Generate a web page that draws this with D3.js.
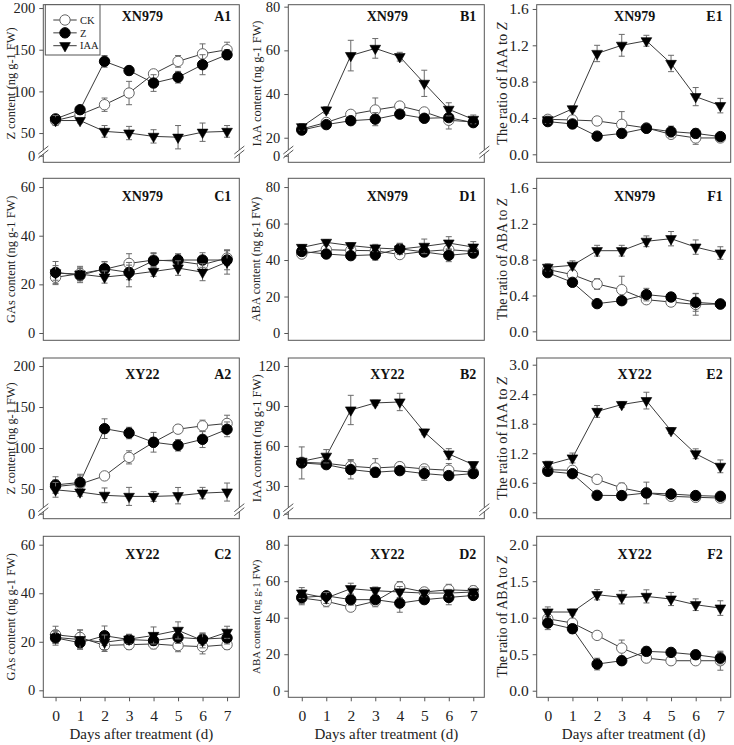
<!DOCTYPE html>
<html><head><meta charset="utf-8">
<script src="https://cdn.jsdelivr.net/npm/d3@7"></script>
<style>body{margin:0;background:#fff} svg{display:block}</style>
</head><body>
<svg id="c" width="734" height="745"></svg>
<script>
const days = [0,1,2,3,4,5,6,7];
const seriesNames = ["CK","Z","IAA"];

// A1: Z content, XN979
const A1_CK = [65, 72, 84, 98, 121, 136, 145, 150];
const A1_CK_se = [4, 4, 8, 14, 4, 7, 12, 9];
const A1_Z = [67, 78, 136, 125, 110, 117, 132, 144];
const A1_Z_se = [4, 3, 7, 5, 10, 7, 12, 6];
const A1_IAA = [65, 65, 52, 50, 46, 45, 51, 52];
const A1_IAA_se = [6, 3, 7, 8, 8, 14, 11, 7];
// B1: IAA content, XN979
const B1_CK = [24, 27, 30.7, 32.7, 34.5, 31.8, 28, 27.2];
const B1_CK_se = [1, 1, 1.5, 5.5, 1, 1, 4, 1];
const B1_Z = [23.5, 26, 27.8, 28.5, 30.8, 28.9, 29.2, 26.9];
const B1_Z_se = [1, 1, 1, 3, 1, 1, 1.5, 1.5];
const B1_IAA = [25, 32.7, 57.6, 60.9, 57.1, 44.9, 33, 28.4];
const B1_IAA_se = [1.5, 1.5, 7, 4.5, 2, 6, 3, 2];
// E1: IAA/Z ratio, XN979
const E1_CK = [0.385, 0.378, 0.367, 0.33, 0.29, 0.22, 0.18, 0.18];
const E1_CK_se = [0.02, 0.02, 0.03, 0.14, 0.03, 0.03, 0.07, 0.03];
const E1_Z = [0.36, 0.334, 0.2, 0.23, 0.286, 0.25, 0.23, 0.195];
const E1_Z_se = [0.03, 0.03, 0.02, 0.03, 0.03, 0.06, 0.05, 0.03];
const E1_IAA = [0.38, 0.5, 1.11, 1.2, 1.25, 1.0, 0.635, 0.536];
const E1_IAA_se = [0.04, 0.03, 0.09, 0.12, 0.06, 0.09, 0.1, 0.08];
// C1: GAs content, XN979
const C1_CK = [22.9, 24.4, 26.2, 28.6, 30, 29.5, 28.1, 30.8];
const C1_CK_se = [3, 3, 3, 4, 3, 3, 3, 3];
const C1_Z = [24.9, 23.7, 26.4, 24.9, 29.7, 30, 30, 30];
const C1_Z_se = [4.5, 3, 3, 3, 3, 2.5, 3, 4];
const C1_IAA = [24.7, 24.2, 23, 24, 25.3, 26.7, 25, 29.2];
const C1_IAA_se = [3, 2.5, 2.5, 5, 2, 3, 3.5, 5];
// D1: ABA content, XN979
const D1_CK = [43.3, 45.7, 45.3, 45.1, 43, 44.7, 45.7, 44.7];
const D1_CK_se = [1.5, 1.5, 1.5, 2, 2, 2, 2, 2];
const D1_Z = [44.7, 43.3, 42.4, 42.9, 46.2, 44.4, 42.6, 43.8];
const D1_Z_se = [1.5, 1.5, 1.5, 3, 3, 2, 3.5, 2.5];
const D1_IAA = [46.9, 49.7, 47.9, 46.6, 46, 47.5, 49.3, 47.1];
const D1_IAA_se = [1.5, 1.5, 1.5, 2, 3, 4, 3.5, 3];
// F1: ABA/Z ratio, XN979
const F1_CK = [0.69, 0.633, 0.528, 0.465, 0.353, 0.327, 0.3, 0.305];
const F1_CK_se = [0.03, 0.03, 0.06, 0.15, 0.03, 0.03, 0.12, 0.03];
const F1_Z = [0.655, 0.547, 0.309, 0.342, 0.41, 0.383, 0.324, 0.305];
const F1_Z_se = [0.04, 0.03, 0.03, 0.03, 0.07, 0.03, 0.1, 0.03];
const F1_IAA = [0.714, 0.737, 0.9, 0.9, 1.005, 1.034, 0.94, 0.874];
const F1_IAA_se = [0.04, 0.05, 0.06, 0.06, 0.06, 0.08, 0.08, 0.07];
// A2: Z content, XY22
const A2_CK = [53, 56, 66, 88.6, 107, 123, 127, 130];
const A2_CK_se = [8, 10, 4, 8, 5, 5, 7, 10];
const A2_Z = [55, 58, 123.6, 118.3, 107, 103.3, 110.6, 122.8];
const A2_Z_se = [10, 10, 12, 7, 12, 7, 10, 9];
const A2_IAA = [49, 46.3, 42.3, 41, 41, 41.9, 45, 46.3];
const A2_IAA_se = [9, 5, 9, 11, 6, 10, 7, 11];
// B2: IAA content, XY22
const B2_CK = [47.8, 47, 44.8, 43.5, 44.5, 42.8, 41.8, 40.3];
const B2_CK_se = [2, 2, 5, 7, 2, 2, 5, 2];
const B2_Z = [47.3, 46, 42.3, 40.3, 41.5, 39.3, 37.8, 39.3];
const B2_Z_se = [12, 3, 7, 3, 2, 5, 2, 2];
const B2_IAA = [48.5, 52.3, 87, 92.3, 93, 70.5, 54, 46];
const B2_IAA_se = [2, 5, 11, 2, 6.5, 2, 4, 2];
// E2: IAA/Z ratio, XY22
const E2_CK = [0.867, 0.853, 0.67, 0.494, 0.393, 0.325, 0.305, 0.29];
const E2_CK_se = [0.05, 0.05, 0.04, 0.1, 0.05, 0.04, 0.06, 0.06];
const E2_Z = [0.833, 0.785, 0.345, 0.34, 0.393, 0.372, 0.34, 0.325];
const E2_Z_se = [0.05, 0.05, 0.08, 0.04, 0.22, 0.04, 0.06, 0.04];
const E2_IAA = [0.968, 1.104, 2.05, 2.19, 2.27, 1.66, 1.19, 0.934];
const E2_IAA_se = [0.07, 0.1, 0.12, 0.06, 0.17, 0.06, 0.1, 0.13];
// C2: GAs content, XY22
const C2_CK = [22.9, 21.8, 18.5, 18.8, 19.1, 18.4, 18, 18.8];
const C2_CK_se = [3.5, 3, 2.5, 2, 2, 2.5, 3, 2];
const C2_Z = [21.6, 19.6, 22.5, 20.9, 20.5, 21.8, 21.1, 21.6];
const C2_Z_se = [3, 2.5, 4, 2, 2, 2.5, 2.5, 2.5];
const C2_IAA = [21.8, 20.9, 19.8, 21.1, 22.6, 24.7, 20.5, 23.9];
const C2_IAA_se = [2.5, 4, 3, 2, 3.5, 3.5, 3, 2.5];
// D2: ABA content, XY22
const D2_CK = [50.8, 49, 45.8, 49, 56.8, 54.1, 55.3, 54.8];
const D2_CK_se = [3, 3, 2, 3, 3, 2, 3, 2.5];
const D2_Z = [51.1, 52, 49.9, 49.9, 48, 49.9, 51.1, 52.2];
const D2_Z_se = [4, 2, 3, 2, 5, 2, 4, 2];
const D2_IAA = [53.5, 50.8, 55.9, 54.8, 54.1, 53.5, 53.5, 54.1];
const D2_IAA_se = [3, 3, 3, 2, 3, 2, 2, 2];
// F2: ABA/Z ratio, XY22
const F2_CK = [0.986, 0.927, 0.758, 0.584, 0.447, 0.411, 0.411, 0.411];
const F2_CK_se = [0.04, 0.04, 0.03, 0.11, 0.04, 0.04, 0.04, 0.13];
const F2_Z = [0.927, 0.849, 0.365, 0.411, 0.539, 0.525, 0.493, 0.447];
const F2_Z_se = [0.09, 0.06, 0.08, 0.03, 0.06, 0.03, 0.06, 0.08];
const F2_IAA = [1.078, 1.078, 1.315, 1.279, 1.292, 1.256, 1.178, 1.132];
const F2_IAA_se = [0.07, 0.04, 0.07, 0.09, 0.09, 0.09, 0.08, 0.1];

// tick labels
const ticksZ = [0, 50, 100, 150, 200];
const ticksIAA1 = [0, 20, 40, 60, 80];
const ticksIAA2 = [0, 30, 60, 90, 120];
const ticksGA = [0, 20, 40, 60];
const ticksABA = [0, 20, 40, 60, 80];
const ticksR1 = [0, 0.4, 0.8, 1.2, 1.6];
const ticksE2 = [0, 0.6, 1.2, 1.8, 2.4, 3.0];
const ticksF2 = [0, 0.5, 1.0, 1.5, 2.0];

// ---------- layout ----------
const FONT = "'Liberation Serif', 'Times New Roman', serif";
const cols = [
  {x0: 43.3, x1: 239.3, xdom: [-0.5, 7.5], labOff: 33},
  {x0: 288.3, x1: 484.3, xdom: [-0.55, 7.45], labOff: 32},
  {x0: 536.7, x1: 730.7, xdom: [-0.45, 7.42], labOff: 35}
];
const rows = [
  {y0: 4.7, y1: 162.3, titleY: 21},
  {y0: 178.3, y1: 340.3, titleY: 200.5},
  {y0: 358, y1: 518.7, titleY: 378.8},
  {y0: 536.3, y1: 697.3, titleY: 558.5}
];

function ylabelParts(kind) {
  if (kind === "rIAA") return [["The ratio of IAA to ", false], ["Z", true]];
  if (kind === "rABA") return [["The ratio of ABA to ", false], ["Z", true]];
  return [[kind + " content (ng g-1 FW)", false]];
}

const panels = [
  {id:"A1", c:0, r:0, cult:"XN979", lab:"Z", labSize:12.4, ticks:ticksZ, dom:[-7.9, 4.4, 27.2, 204], s:[A1_CK,A1_Z,A1_IAA], e:[A1_CK_se,A1_Z_se,A1_IAA_se], legend:true},
  {id:"B1", c:1, r:0, cult:"XN979", lab:"IAA", labSize:12.4, ticks:ticksIAA1, dom:[-3.0, 1.7, 13.45, 80.9], s:[B1_CK,B1_Z,B1_IAA], e:[B1_CK_se,B1_Z_se,B1_IAA_se]},
  {id:"E1", c:2, r:0, cult:"XN979", lab:"rIAA", labSize:14.4, ticks:ticksR1, dec:true, dom:[-0.088, 1.647], s:[E1_CK,E1_Z,E1_IAA], e:[E1_CK_se,E1_Z_se,E1_IAA_se]},
  {id:"C1", c:0, r:1, cult:"XN979", lab:"GAs", labSize:12.4, ticks:ticksGA, dom:[-3.0, 63.6], s:[C1_CK,C1_Z,C1_IAA], e:[C1_CK_se,C1_Z_se,C1_IAA_se]},
  {id:"D1", c:1, r:1, cult:"XN979", lab:"ABA", labSize:11.9, ticks:ticksABA, dom:[-4.0, 84.8], s:[D1_CK,D1_Z,D1_IAA], e:[D1_CK_se,D1_Z_se,D1_IAA_se]},
  {id:"F1", c:2, r:1, cult:"XN979", lab:"rABA", labSize:13.8, ticks:ticksR1, dec:true, dom:[-0.1, 1.708], s:[F1_CK,F1_Z,F1_IAA], e:[F1_CK_se,F1_Z_se,F1_IAA_se]},
  {id:"A2", c:0, r:2, cult:"XY22", lab:"Z", labSize:12.4, ticks:ticksZ, dom:[-6.1, 4.9, 24.8, 209.8], s:[A2_CK,A2_Z,A2_IAA], e:[A2_CK_se,A2_Z_se,A2_IAA_se]},
  {id:"B2", c:1, r:2, cult:"XY22", lab:"IAA", labSize:12.6, ticks:ticksIAA2, dom:[-3.75, 3, 12.2, 126], s:[B2_CK,B2_Z,B2_IAA], e:[B2_CK_se,B2_Z_se,B2_IAA_se]},
  {id:"E2", c:2, r:2, cult:"XY22", lab:"rIAA", labSize:14.4, ticks:ticksE2, dec:true, dom:[-0.13, 3.136], s:[E2_CK,E2_Z,E2_IAA], e:[E2_CK_se,E2_Z_se,E2_IAA_se]},
  {id:"C2", c:0, r:3, cult:"XY22", lab:"GAs", labSize:12.4, ticks:ticksGA, dom:[-2.88, 63.46], s:[C2_CK,C2_Z,C2_IAA], e:[C2_CK_se,C2_Z_se,C2_IAA_se], xaxis:true},
  {id:"D2", c:1, r:3, cult:"XY22", lab:"ABA", labSize:10.9, ticks:ticksABA, dom:[-3.6, 84.6], s:[D2_CK,D2_Z,D2_IAA], e:[D2_CK_se,D2_Z_se,D2_IAA_se], xaxis:true},
  {id:"F2", c:2, r:3, cult:"XY22", lab:"rABA", labSize:13.8, ticks:ticksF2, dec:true, dom:[-0.09, 2.115], s:[F2_CK,F2_Z,F2_IAA], e:[F2_CK_se,F2_Z_se,F2_IAA_se], xaxis:true}
];

const svg = d3.select("#c");
const FRAME = "#555";
const LINE = "#3a3a3a";
const ERR = "#6a6a6a";
const triangle = d3.symbol().type(d3.symbolTriangle).size(50);

function drawMarker(g, kind, cx, cy) {
  if (kind === 2) {
    g.append("path").attr("d", triangle())
      .attr("transform", `translate(${cx},${cy}) rotate(180)`)
      .attr("fill", "#000").attr("stroke", "#000").attr("stroke-width", 0.6);
  } else {
    g.append("circle").attr("cx", cx).attr("cy", cy).attr("r", 5.2)
      .attr("fill", kind === 0 ? "#fff" : "#000")
      .attr("stroke", kind === 0 ? "#666" : "#000").attr("stroke-width", 1);
  }
}

function drawBreak(g, x, yb) {
  g.append("rect").attr("x", x - 3).attr("y", yb - 2).attr("width", 6).attr("height", 4).attr("fill", "#fff");
  [-2, 2].forEach(o => {
    g.append("line").attr("x1", x - 5).attr("y1", yb + o + 4).attr("x2", x + 5).attr("y2", yb + o - 4)
      .attr("stroke", FRAME).attr("stroke-width", 1);
  });
}

panels.forEach(p => {
  const C = cols[p.c], R = rows[p.r];
  const g = svg.append("g");
  const x = d3.scaleLinear().domain(C.xdom).range([C.x0, C.x1]);
  let y, yb = null;
  if (p.dom.length === 4) {
    const [lo, bLo, bHi, hi] = p.dom;
    const H = R.y1 - R.y0;
    const total = (bLo - lo) + (hi - bHi);
    yb = R.y1 - (bLo - lo) / total * H;
    y = d3.scaleLinear().domain([lo, bLo, bHi, hi]).range([R.y1, yb, yb, R.y0]);
  } else {
    y = d3.scaleLinear().domain(p.dom).range([R.y1, R.y0]);
  }

  // frame
  g.append("rect").attr("x", C.x0).attr("y", R.y0).attr("width", C.x1 - C.x0).attr("height", R.y1 - R.y0)
    .attr("fill", "none").attr("stroke", FRAME).attr("stroke-width", 1);

  // y axis
  const yAxis = d3.axisLeft(y).tickValues(p.ticks).tickSize(4).tickSizeOuter(0).tickPadding(4)
    .tickFormat(p.dec ? d3.format(".1f") : d3.format("d"));
  const ya = g.append("g").attr("transform", `translate(${C.x0},0)`).call(yAxis);
  ya.select(".domain").remove();
  ya.selectAll(".tick line").attr("stroke", FRAME);
  ya.selectAll(".tick text").attr("font-family", FONT).attr("font-size", p.dec ? 15.5 : 14.5).attr("fill", "#222");

  if (p.xaxis) {
    const xAxis = d3.axisBottom(x).tickValues(days).tickSize(4).tickSizeOuter(0).tickPadding(9).tickFormat(d3.format("d"));
    const xa = g.append("g").attr("transform", `translate(0,${R.y1})`).call(xAxis);
    xa.select(".domain").remove();
    xa.selectAll(".tick line").attr("stroke", FRAME);
    xa.selectAll(".tick text").attr("font-family", FONT).attr("font-size", 15.5).attr("fill", "#222");
    g.append("text").attr("x", (C.x0 + C.x1) / 2).attr("y", 739).attr("text-anchor", "middle")
      .attr("font-family", FONT).attr("font-size", 15).attr("fill", "#222").text("Days after treatment (d)");
  }

  if (yb !== null) { drawBreak(g, C.x0, yb); drawBreak(g, C.x1, yb); }

  // y label
  const lt = g.append("text").attr("transform", `translate(${C.x0 - C.labOff},${(R.y0 + R.y1) / 2}) rotate(-90)`)
    .attr("text-anchor", "middle").attr("dy", "0.35em")
    .attr("font-family", FONT).attr("font-size", p.labSize).attr("fill", "#222");
  ylabelParts(p.lab).forEach(([t, it]) => {
    const ts = lt.append("tspan").text(t);
    if (it) ts.attr("font-style", "italic");
  });

  // titles
  g.append("text").attr("x", (C.x0 + C.x1) / 2 + 1).attr("y", R.titleY).attr("text-anchor", "middle")
    .attr("font-family", FONT).attr("font-weight", "bold").attr("font-size", 14).attr("fill", "#111").text(p.cult);
  g.append("text").attr("x", C.x1 - 8).attr("y", R.titleY).attr("text-anchor", "end")
    .attr("font-family", FONT).attr("font-weight", "bold").attr("font-size", 14).attr("fill", "#111").text(p.id);

  // lines
  const line = d3.line().x((d, i) => x(days[i])).y(d => y(d));
  p.s.forEach(vals => {
    g.append("path").attr("d", line(vals)).attr("fill", "none").attr("stroke", LINE).attr("stroke-width", 1);
  });
  // series: error bars + markers
  p.s.forEach((vals, k) => {
    const se = p.e[k];
    vals.forEach((v, i) => {
      const cx = x(days[i]);
      const yt = y(v + se[i]), ybm = y(v - se[i]);
      g.append("line").attr("x1", cx).attr("x2", cx).attr("y1", yt).attr("y2", ybm).attr("stroke", ERR).attr("stroke-width", 1);
      [yt, ybm].forEach(yy => g.append("line").attr("x1", cx - 3).attr("x2", cx + 3).attr("y1", yy).attr("y2", yy)
        .attr("stroke", ERR).attr("stroke-width", 1));
    });
    vals.forEach((v, i) => drawMarker(g, k, x(days[i]), y(v)));
  });

  if (p.legend) {
    const lg = g.append("g");
    lg.append("rect").attr("x", 45.3).attr("y", R.y0).attr("width", 54.7).attr("height", 50.3)
      .attr("fill", "#fff").attr("stroke", FRAME).attr("stroke-width", 1);
    const ly = d3.scalePoint().domain(seriesNames).range([R.y0 + 15.3, R.y0 + 41]);
    seriesNames.forEach((nm, k) => {
      const yy = ly(nm);
      lg.append("line").attr("x1", 53.3).attr("x2", 76.7).attr("y1", yy).attr("y2", yy).attr("stroke", LINE).attr("stroke-width", 1);
      drawMarker(lg, k, 65, yy);
      lg.append("text").attr("x", 80).attr("y", yy).attr("dy", "0.35em").attr("font-family", FONT)
        .attr("font-size", 10.5).attr("fill", "#222").text(nm);
    });
  }
});
</script>
</body></html>
